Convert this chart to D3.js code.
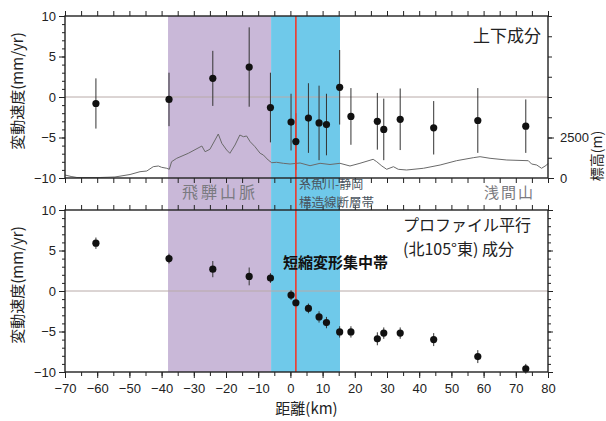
<!DOCTYPE html>
<html>
<head>
<meta charset="utf-8">
<script src="https://cdn.jsdelivr.net/npm/d3@7"></script>
<style>
  body { margin: 0; background: #fff; }
  text { font-family: "Liberation Sans", Arial, sans-serif; }
  .cjk { font-family: "Noto Sans CJK JP", sans-serif; }
</style>
</head>
<body>
<svg width="606" height="421"></svg>
<script>
// GNSS stations along the profile: distance (km) and velocity components (mm/yr)
const distances   = [-60.4, -37.7, -24.1, -12.8, -6.2, 0.2, 1.7, 5.6, 8.9, 11.2, 15.3, 18.8, 27.0, 29.0, 34.1, 44.5, 58.2, 73.1];
const vertical    = [-0.8, -0.3, 2.3, 3.7, -1.3, -3.1, -5.5, -2.6, -3.2, -3.4, 1.2, -2.4, -3.0, -4.0, -2.75, -3.8, -2.9, -3.6];
const verticalErr = [3.1, 3.3, 3.4, 4.9, 4.3, 3.5, 3.5, 4.3, 4.6, 3.8, 4.6, 3.5, 3.5, 3.8, 3.8, 3.3, 4.0, 3.3];
const parallel    = [5.9, 4.0, 2.7, 1.8, 1.6, -0.5, -1.45, -2.15, -3.2, -3.9, -5.05, -5.05, -5.9, -5.2, -5.2, -6.0, -8.1, -9.6];
const parallelErr = [0.7, 0.6, 1.0, 1.1, 0.6, 0.6, 0.6, 0.6, 0.7, 0.7, 0.7, 0.7, 0.8, 0.7, 0.7, 0.8, 0.8, 0.6];

// topography along the profile
const profileKm   = [-70, -68.1, -66.3, -59.1, -54.5, -49.8, -46.7, -44.6, -42.6, -41.0, -40.0, -38.4, -37.6, -36.9, -35.3, -31.7,
                     -27.5, -26.5, -25.0, -23.4, -22.4, -21.3, -19.8, -18.8, -17.2, -15.7, -14.6, -13.6, -12.5, -11.0, -9.4, -8.4,
                     -6.9, -5.8, -4.3, -2.2, -0.1, 3.0, 6.1, 9.2, 12.3, 15.4, 18.5, 21.6, 25.7, 26.8, 28.4, 29.9, 32.0, 33.5, 36.1,
                     41.3, 46.5, 51.6, 56.8, 58.9, 62.0, 67.2, 73.9, 74.9, 76.5, 78.0, 79.6, 80];
const profileElev = [185, 93, 31, 31, 62, 216, 389, 432, 698, 741, 660, 599, 537, 1006, 1216, 1525,
                     1975, 1623, 1772, 2346, 2716, 2142, 1728, 1525, 2037, 2654, 2549, 2593, 2241, 1932, 1525, 1420,
                     1111, 944, 969, 907, 864, 926, 759, 907, 833, 907, 741, 907, 1154, 1006, 741, 537, 698, 537, 494,
                     599, 802, 1068, 1253, 1315, 1216, 1111, 1068, 864, 802, 599, 802, 900];

// zones (km)
const hidaZone = [-38, -6];
const shorteningZone = [-6, 15.4];
const faultLine = 1.7;

const xTickLabels = [-70, -60, -50, -40, -30, -20, -10, 0, 10, 20, 30, 40, 50, 60, 70, 80];
const yTickLabels = [-10, -5, 0, 5, 10];
const elevTickLabels = [0, 2500];

const svg = d3.select('svg');
const left = 65, right = 548;
const topPanel = { top: 16, bottom: 178 };
const botPanel = { top: 210, bottom: 372 };

const x = d3.scaleLinear().domain([-70, 80]).range([left, right]);
const yTop = d3.scaleLinear().domain([-10, 10]).range([topPanel.bottom, topPanel.top]);
const yBot = d3.scaleLinear().domain([-10, 10]).range([botPanel.bottom, botPanel.top]);
const yElev = d3.scaleLinear().domain([0, 10000]).range([topPanel.bottom, topPanel.top]);

const fmt = d => d < 0 ? '\u2212' + Math.abs(d) : String(d);

// background zones spanning both panels
svg.append('rect')
   .attr('x', x(hidaZone[0])).attr('width', x(hidaZone[1]) - x(hidaZone[0]))
   .attr('y', topPanel.top).attr('height', botPanel.bottom - topPanel.top)
   .attr('fill', '#c9b8d8');
svg.append('rect')
   .attr('x', x(shorteningZone[0])).attr('width', x(shorteningZone[1]) - x(shorteningZone[0]))
   .attr('y', topPanel.top).attr('height', botPanel.bottom - topPanel.top)
   .attr('fill', '#6fc9ea');

// zero lines
[yTop, yBot].forEach(y => {
  svg.append('line')
     .attr('x1', left).attr('x2', right)
     .attr('y1', y(0)).attr('y2', y(0))
     .attr('stroke', '#b8aaa8').attr('stroke-width', 1);
});

// topography line
svg.append('path')
   .datum(profileKm.map((d, i) => [d, profileElev[i]]))
   .attr('fill', 'none').attr('stroke', '#6a6a6a').attr('stroke-width', 1)
   .attr('d', d3.line().x(d => x(d[0])).y(d => yElev(d[1])));

// error bars
function errorBars(y, vals, errs) {
  svg.append('g').selectAll('line')
     .data(distances)
     .join('line')
     .attr('x1', d => x(d)).attr('x2', d => x(d))
     .attr('y1', (d, i) => y(vals[i] + errs[i]))
     .attr('y2', (d, i) => y(vals[i] - errs[i]))
     .attr('stroke', '#333').attr('stroke-width', 1);
}
errorBars(yTop, vertical, verticalErr);
errorBars(yBot, parallel, parallelErr);

// fault line
svg.append('line')
   .attr('x1', x(faultLine)).attr('x2', x(faultLine))
   .attr('y1', topPanel.top).attr('y2', botPanel.bottom)
   .attr('stroke', '#f03a2a').attr('stroke-width', 1.6);

// dots
function dots(y, vals) {
  svg.append('g').selectAll('circle')
     .data(distances)
     .join('circle')
     .attr('cx', d => x(d))
     .attr('cy', (d, i) => y(vals[i]))
     .attr('r', 3.6)
     .attr('fill', '#111');
}
dots(yTop, vertical);
dots(yBot, parallel);

// axes helpers
function styleAxis(g) {
  g.select('.domain').remove();
  g.selectAll('line').attr('stroke', '#222');
  g.selectAll('text').attr('font-size', 13).attr('fill', '#222');
}
function minor(axisFn, scale, vals, size) {
  return axisFn(scale).tickValues(vals).tickSize(size).tickFormat('');
}
const xMinor = d3.range(-70, 81, 5);
const yMinor = d3.range(-10, 11, 1);

[topPanel, botPanel].forEach((p, idx) => {
  const y = idx === 0 ? yTop : yBot;
  // top edge ticks (outward up)
  svg.append('g').attr('transform', `translate(0,${p.top})`)
     .call(minor(d3.axisTop, x, xMinor, 5)).call(styleAxis);
  // bottom edge ticks (outward down)
  const bottom = svg.append('g').attr('transform', `translate(0,${p.bottom})`);
  if (idx === 1) {
    bottom.call(d3.axisBottom(x).tickValues(xTickLabels).tickSize(6).tickPadding(6).tickFormat(fmt)).call(styleAxis);
    svg.append('g').attr('transform', `translate(0,${p.bottom})`)
       .call(minor(d3.axisBottom, x, xMinor, 4)).call(styleAxis);
  } else {
    bottom.call(minor(d3.axisBottom, x, xMinor, 5)).call(styleAxis);
  }
  // left axis
  svg.append('g').attr('transform', `translate(${left},0)`)
     .call(d3.axisLeft(y).tickValues(yTickLabels).tickSize(6).tickPadding(3).tickFormat(fmt)).call(styleAxis);
  svg.append('g').attr('transform', `translate(${left},0)`)
     .call(minor(d3.axisLeft, y, yMinor, 3)).call(styleAxis);
  // right side
  if (idx === 0) {
    svg.append('g').attr('transform', `translate(${right},0)`)
       .call(d3.axisRight(yElev).tickValues(elevTickLabels).tickSize(6).tickPadding(6).tickFormat(d3.format('d'))).call(styleAxis);
    svg.append('g').attr('transform', `translate(${right},0)`)
       .call(minor(d3.axisRight, yElev, d3.range(0, 10001, 1250), 4)).call(styleAxis);
  } else {
    svg.append('g').attr('transform', `translate(${right},0)`)
       .call(minor(d3.axisRight, y, yMinor, 3)).call(styleAxis);
    svg.append('g').attr('transform', `translate(${right},0)`)
       .call(minor(d3.axisRight, y, yTickLabels, 5)).call(styleAxis);
  }
  // frame
  svg.append('rect')
     .attr('x', left).attr('y', p.top)
     .attr('width', right - left).attr('height', p.bottom - p.top)
     .attr('fill', 'none').attr('stroke', '#222').attr('stroke-width', 1.4);
  // y title
  svg.append('text')
     .attr('class', 'cjk')
     .attr('transform', `translate(23,${(p.top + p.bottom) / 2 - 6}) rotate(-90)`)
     .attr('text-anchor', 'middle')
     .attr('font-size', 15).attr('fill', '#222')
     .text('変動速度(mm/yr)');
});

// elevation title, at the right page edge
svg.append('text')
   .attr('class', 'cjk')
   .attr('transform', `translate(602,156) rotate(-90)`)
   .attr('text-anchor', 'middle')
   .attr('font-size', 14).attr('fill', '#222')
   .text('標高(m)');

// x title
svg.append('text')
   .attr('class', 'cjk')
   .attr('x', x(5)).attr('y', 414)
   .attr('text-anchor', 'middle')
   .attr('font-size', 15).attr('fill', '#222')
   .text('距離(km)');

// panel labels
svg.append('text').attr('class', 'cjk')
   .attr('x', 541).attr('y', 42).attr('text-anchor', 'end')
   .attr('font-size', 17).attr('fill', '#222')
   .text('上下成分');
svg.append('text').attr('class', 'cjk')
   .attr('x', 403).attr('y', 231)
   .attr('font-size', 16).attr('fill', '#222')
   .text('プロファイル平行');
svg.append('text').attr('class', 'cjk')
   .attr('x', 403).attr('y', 255)
   .attr('font-size', 16).attr('fill', '#222')
   .text('(北105°東) 成分');
svg.append('text').attr('class', 'cjk')
   .attr('x', 283).attr('y', 268)
   .attr('font-size', 15).attr('font-weight', 'bold').attr('fill', '#111')
   .text('短縮変形集中帯');

// zone labels in the gap
svg.append('text').attr('class', 'cjk')
   .attr('x', 182).attr('y', 198)
   .attr('font-size', 16).attr('letter-spacing', 3).attr('fill', '#7a7a80')
   .text('飛騨山脈');
svg.append('text').attr('class', 'cjk')
   .attr('x', 299).attr('y', 189)
   .attr('font-size', 12).attr('fill', '#4a5560')
   .text('糸魚川-静岡');
svg.append('text').attr('class', 'cjk')
   .attr('x', 299).attr('y', 206.5)
   .attr('font-size', 12.5).attr('fill', '#4a5560')
   .text('構造線断層帯');
svg.append('text').attr('class', 'cjk')
   .attr('x', 484).attr('y', 198)
   .attr('font-size', 15).attr('letter-spacing', 2).attr('fill', '#7a7a80')
   .text('浅間山');
</script>
</body>
</html>
